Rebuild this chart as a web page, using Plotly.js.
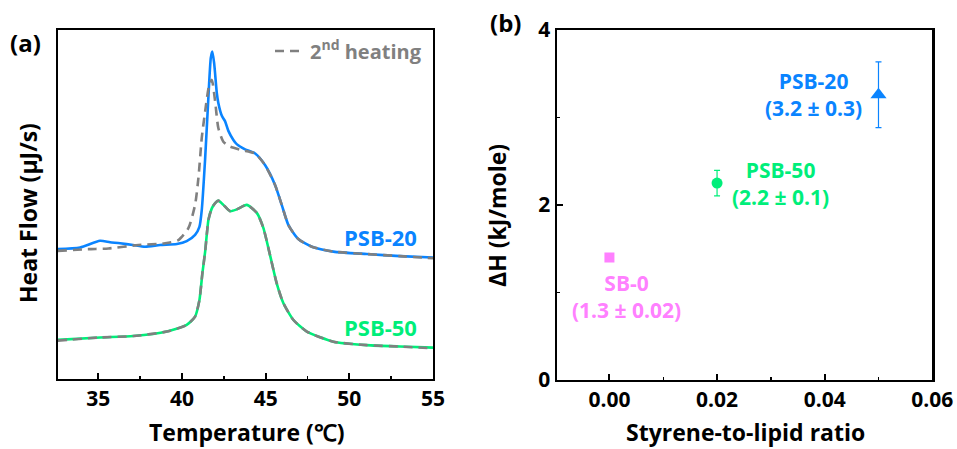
<!DOCTYPE html>
<html><head><meta charset="utf-8">
<script src="https://cdn.plot.ly/plotly-3.0.1.min.js"></script>
<style>body{margin:0;background:#fff}#chart{width:957px;height:449px}</style>
</head><body><div id="chart"></div>
<script>
// Panel (a): DSC heat flow (arbitrary units), temperature in °C
const tempPSB20 = [32.57,33.91,35.10,35.70,36.30,37.07,37.79,38.69,39.69,40.28,40.78,41.04,41.18,41.38,41.58,41.72,41.81,41.92,42.08,42.17,42.38,42.57,42.77,43.07,43.27,43.77,44.37,44.96,45.56,45.96,46.36,46.95,47.76,49.05,51.04,53.03,55.00];
const flowPSB20 = [37.2,37.7,39.6,39.2,38.9,38.4,37.9,38.4,38.7,39.5,41.3,43.6,48.4,63.0,81.1,92.0,93.8,90.5,81.9,79.1,75.4,73.9,71.1,68.5,67.3,65.8,64.6,61.3,55.6,49.9,44.1,40.1,37.9,36.5,35.8,35.2,34.8];
const tempPSB20second = [32.57,34.40,35.60,37.39,38.99,39.78,40.38,40.78,40.98,41.18,41.38,41.62,41.78,41.98,42.17,42.47,42.87,43.57,44.37,44.96,45.56,45.96,46.36,46.95,47.76,49.05,51.04,53.03,55.00];
const flowPSB20second = [36.7,37.2,37.4,38.4,38.9,39.8,43.2,49.9,57.6,69.1,76.6,84.2,85.7,79.5,71.9,68.0,66.6,65.6,64.6,61.3,55.6,49.9,44.1,40.1,37.9,36.5,35.8,35.2,34.6];
const tempPSB50 = [32.57,35.10,37.09,39.09,40.28,40.78,41.04,41.22,41.38,41.58,41.78,41.98,42.17,42.47,42.87,43.27,43.87,44.47,44.86,45.26,45.66,46.06,46.66,47.46,49.05,51.04,53.03,55.00];
const flowPSB50 = [11.2,11.9,12.3,13.6,15.5,17.9,22.6,30.4,36.4,45.6,48.9,50.4,51.1,49.9,48.1,48.6,49.9,47.6,43.3,35.5,27.4,21.7,16.9,13.6,10.7,9.7,9.3,9.0];
const flowPSB50second = [11.0,11.9,12.3,13.6,15.5,17.9,22.6,30.4,36.4,45.6,48.9,50.4,51.1,49.9,48.1,48.6,49.9,47.6,43.3,35.5,27.4,21.7,16.9,13.6,10.7,9.7,9.3,8.8];
const tempTicks = [35,40,45,50,55];
const tempTickLabels = ['35','40','45','50','55'];

// Panel (b): enthalpy vs styrene-to-lipid ratio
const sampleNames = ['SB-0','PSB-50','PSB-20'];
const ratio = [0.00,0.02,0.05];
const deltaH = [1.40,2.25,3.26];
const deltaHerr = [0,0.145,0.375];
const deltaHlabels = ['(1.3 ± 0.02)','(2.2 ± 0.1)','(3.2 ± 0.3)'];
const ratioTicks = [0,0.02,0.04,0.06];
const ratioTickLabels = ['0.00','0.02','0.04','0.06'];
const dhTicks = [0,2,4];
const dhTickLabels = ['0','2','4'];

const BLUE='#0A84FF', GREEN='#00EE7A', GRAY='#808080', PINK='#FF80FF';
const FONT="Open Sans";

const traces = [
  {x:tempPSB20, y:flowPSB20, xaxis:'x', yaxis:'y', mode:'lines', line:{color:BLUE,width:2.6,shape:'spline',smoothing:0.6}, showlegend:false},
  {x:tempPSB50, y:flowPSB50, xaxis:'x', yaxis:'y', mode:'lines', line:{color:GREEN,width:2.6,shape:'spline',smoothing:0.6}, showlegend:false},
  {x:tempPSB20second, y:flowPSB20second, xaxis:'x', yaxis:'y', mode:'lines', name:'<b>2<sup>nd</sup> heating</b>', line:{color:GRAY,width:2.6,dash:'9px,6px',shape:'spline',smoothing:0.6}, showlegend:true},
  {x:tempPSB50, y:flowPSB50second, xaxis:'x', yaxis:'y', mode:'lines', line:{color:GRAY,width:2.6,dash:'9px,6px',shape:'spline',smoothing:0.6}, showlegend:false},
  {x:[ratio[0]], y:[deltaH[0]], xaxis:'x2', yaxis:'y2', mode:'markers', marker:{symbol:'square',size:10,color:PINK}, showlegend:false},
  {x:[ratio[1]], y:[deltaH[1]], xaxis:'x2', yaxis:'y2', mode:'markers', marker:{symbol:'circle',size:11,color:GREEN}, error_y:{type:'data',array:[deltaHerr[1]],visible:true,color:GREEN,thickness:1.2,width:3}, showlegend:false},
  {x:[ratio[2]], y:[deltaH[2]], xaxis:'x2', yaxis:'y2', mode:'markers', marker:{symbol:'triangle-up',size:14,color:BLUE}, error_y:{type:'data',array:[deltaHerr[2]],visible:true,color:BLUE,thickness:1.2,width:3}, showlegend:false}
];

function bold(a){ return a.map(s=>'<b>'+s+'</b>'); }
function axisCommon(){ return {showline:true, mirror:true, linecolor:'#000', linewidth:2.2, showgrid:false, zeroline:false,
  ticks:'inside', ticklen:6, tickwidth:2, tickcolor:'#000',
  tickfont:{family:FONT,size:21,color:'#000',weight:'bold'}}; }

const labelColors=[PINK,GREEN,BLUE];
const labelPos=[[0.0032,0.954],[0.0318,2.246],[0.0379,3.26]];
const titleFont = {family:FONT,size:23,color:'#000'};
const annotations = [
  {xref:'x',yref:'y',x:51.84,y:40.8,text:'<b>PSB-20</b>',showarrow:false,font:{family:FONT,size:22,color:BLUE}},
  {xref:'x',yref:'y',x:51.84,y:15.0,text:'<b>PSB-50</b>',showarrow:false,font:{family:FONT,size:22,color:GREEN}},
  {xref:'paper',yref:'paper',x:25/957,y:1-42/449,xanchor:'center',yanchor:'middle',text:'<b>(a)</b>',showarrow:false,font:{family:FONT,size:24,color:'#000'}},
  {xref:'paper',yref:'paper',x:505/957,y:1-23/449,xanchor:'center',yanchor:'middle',text:'<b>(b)</b>',showarrow:false,font:{family:FONT,size:24,color:'#000'}},
  {xref:'paper',yref:'paper',x:28/957,y:1-213/449,xanchor:'center',yanchor:'middle',textangle:-90,text:'<b>Heat Flow (μJ/s)</b>',showarrow:false,font:titleFont},
  {xref:'paper',yref:'paper',x:497/957,y:1-216/449,xanchor:'center',yanchor:'middle',textangle:-90,text:'<b>ΔH (kJ/mole)</b>',showarrow:false,font:titleFont},
  {xref:'paper',yref:'paper',x:247/957,y:1-432/449,xanchor:'center',yanchor:'middle',text:'<b>Temperature (℃)</b>',showarrow:false,font:titleFont},
  {xref:'paper',yref:'paper',x:745/957,y:1-432/449,xanchor:'center',yanchor:'middle',text:'<b>Styrene-to-lipid ratio</b>',showarrow:false,font:titleFont}
];
for(let i=0;i<sampleNames.length;i++){
  annotations.push({xref:'x2',yref:'y2',x:labelPos[i][0],y:labelPos[i][1],xanchor:'center',yanchor:'middle',
    text:'<b>'+sampleNames[i]+'</b><br><b>'+deltaHlabels[i]+'</b>',showarrow:false,
    font:{family:FONT,size:21,color:labelColors[i]}});
}

const layout = {
  width:957, height:449, margin:{l:0,r:0,t:0,b:0}, paper_bgcolor:'#fff', plot_bgcolor:'#fff',
  font:{family:FONT,color:'#000',size:21},
  xaxis:Object.assign(axisCommon(), {domain:[57.7/957,433/957], anchor:'y', range:[32.57,55],
    tickmode:'array', tickvals:tempTicks, ticktext:bold(tempTickLabels),
    minor:{dtick:2.5, tick0:35, ticks:'inside', ticklen:3, tickwidth:1.5, tickcolor:'#000'}}),
  yaxis:Object.assign(axisCommon(), {domain:[1-379/449,1-30/449], anchor:'x', range:[0,100], ticks:'', showticklabels:false}),
  xaxis2:Object.assign(axisCommon(), {domain:[556.7/957,932.3/957], anchor:'y2', range:[-0.0098,0.06],
    tickmode:'array', tickvals:ratioTicks, ticktext:bold(ratioTickLabels),
    minor:{dtick:0.01, tick0:0, ticks:'inside', ticklen:3, tickwidth:1.5, tickcolor:'#000'}}),
  yaxis2:Object.assign(axisCommon(), {domain:[1-380/449,1-30/449], anchor:'x2', range:[0,4],
    tickmode:'array', tickvals:dhTicks, ticktext:bold(dhTickLabels),
    minor:{dtick:1, tick0:0, ticks:'inside', ticklen:3, tickwidth:1.5, tickcolor:'#000'}}),
  showlegend:true,
  legend:{x:270/957, xanchor:'left', y:1-51/449, yanchor:'middle', bgcolor:'rgba(0,0,0,0)', borderwidth:0,
    font:{family:FONT,size:20,color:GRAY}, itemwidth:30, tracegroupgap:0},
  annotations:annotations
};

Plotly.newPlot('chart', traces, layout, {staticPlot:true, displayModeBar:false});
</script>
</body></html>
